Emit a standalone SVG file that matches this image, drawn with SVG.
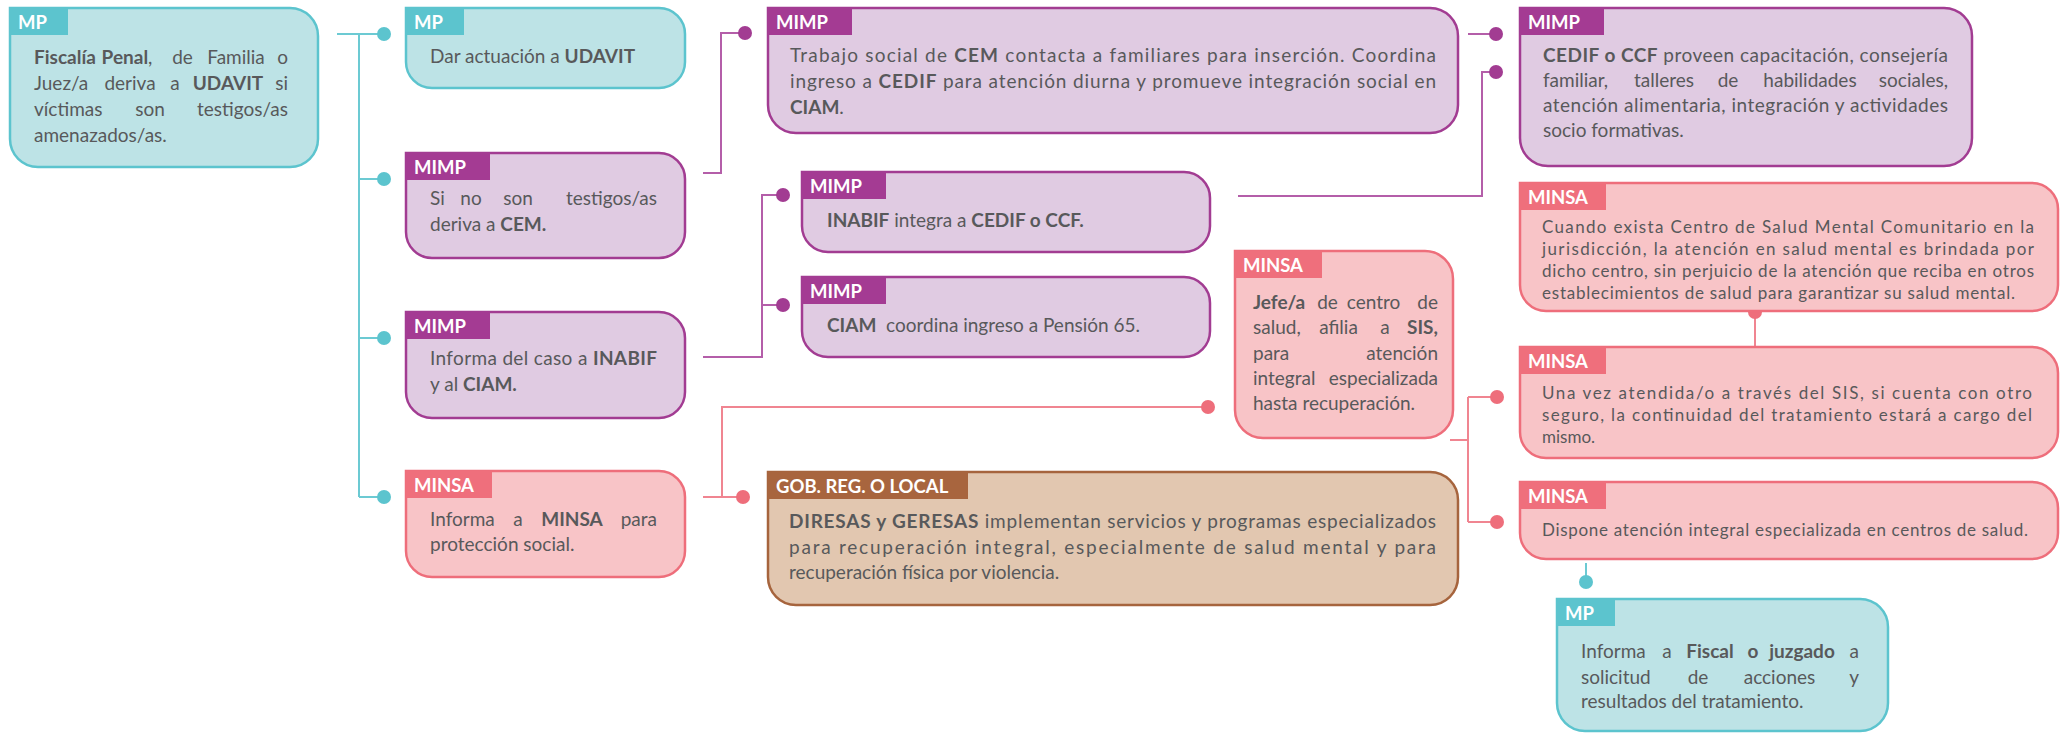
<svg xmlns="http://www.w3.org/2000/svg" width="2063" height="733" viewBox="0 0 2063 733">
<style>
text{font-family:Lato,"Open Sans","Liberation Sans",sans-serif;fill:#58595b;font-size:19px}
.s{font-size:17px}
.b{font-weight:700}
.m{text-anchor:middle}
.e{text-anchor:end}
.tab{font-weight:700;fill:#fff;font-size:18.5px}
.mp path{fill:#bde3e6;stroke:#5cc4ce;stroke-width:2.5}
.mp rect{fill:#5cc4ce}
.mimp path{fill:#e0cbe2;stroke:#a23c92;stroke-width:2.5}
.mimp rect{fill:#a43b93}
.minsa path{fill:#f8c4c7;stroke:#ee6e7b;stroke-width:2.5}
.minsa rect{fill:#ef6f7c}
.gob path{fill:#e2c7b0;stroke:#a6643d;stroke-width:2.5}
.gob rect{fill:#a8653e}
.ct{stroke:#6ccad3;stroke-width:2;fill:none}
.cp{stroke:#b45ea9;stroke-width:2;fill:none}
.cr{stroke:#f08591;stroke-width:2;fill:none}
.dt{fill:#5cc4ce}
.dp{fill:#a23c92}
.dr{fill:#ee6e7b}
</style>

<g id="connectors">
  <path class="ct" d="M337,34 H383 M359,34 V497 M359,179 H383 M359,338 H383 M359,497 H383"/>
  <circle class="dt" cx="384" cy="34" r="7"/>
  <circle class="dt" cx="384" cy="179" r="7"/>
  <circle class="dt" cx="384" cy="338" r="7"/>
  <circle class="dt" cx="384" cy="497" r="7"/>
  <path class="cp" d="M703,173 H721 V33 H745"/>
  <circle class="dp" cx="745" cy="33" r="7"/>
  <path class="cp" d="M703,357 H762 V195 H783 M762,305 H783"/>
  <circle class="dp" cx="783" cy="195" r="7"/>
  <circle class="dp" cx="783" cy="305" r="7"/>
  <path class="cp" d="M1468,34 H1496"/>
  <circle class="dp" cx="1496" cy="34" r="7"/>
  <path class="cp" d="M1238,196 H1482 V72 H1496"/>
  <circle class="dp" cx="1496" cy="72" r="7"/>
  <path class="cr" d="M703,497 H743 M722,497 V407 H1208"/>
  <circle class="dr" cx="743" cy="497" r="7"/>
  <circle class="dr" cx="1208" cy="407" r="7"/>
  <path class="cr" d="M1450,440 H1468 M1468,397 V522 M1468,397 H1497 M1468,522 H1497"/>
  <circle class="dr" cx="1497" cy="397" r="7"/>
  <circle class="dr" cx="1497" cy="522" r="7"/>
  <path class="cr" d="M1755,312 V348"/>
  <circle class="dr" cx="1755" cy="312" r="7"/>
  <path class="ct" d="M1586,563 V582"/>
  <circle class="dt" cx="1586" cy="582" r="7"/>
</g>

<g id="n1" class="mp">
  <path d="M10,8 H290 A28,28 0 0 1 318,36 V139 A28,28 0 0 1 290,167 H38 A28,28 0 0 1 10,139 Z"/>
  <rect x="10" y="8" width="58" height="27"/>
  <text class="tab" x="18" y="29">MP</text>
  <text y="64"><tspan x="34" class="b">Fiscalía</tspan><tspan x="127" class="m"><tspan class="b">Penal</tspan>,</tspan><tspan x="182.5" class="m">de</tspan><tspan x="236" class="m">Familia</tspan><tspan x="288" class="e">o</tspan></text>
  <text y="90"><tspan x="34">Juez/a</tspan><tspan x="130" class="m">deriva</tspan><tspan x="175" class="m">a</tspan><tspan x="228" class="m b">UDAVIT</tspan><tspan x="288" class="e">si</tspan></text>
  <text y="116"><tspan x="34">víctimas</tspan><tspan x="150" class="m">son</tspan><tspan x="288" class="e">testigos/as</tspan></text>
  <text x="34" y="142">amenazados/as.</text>
</g>

<g id="n2" class="mp">
  <path d="M406,8 H659 A26,26 0 0 1 685,34 V62 A26,26 0 0 1 659,88 H432 A26,26 0 0 1 406,62 Z"/>
  <rect x="406" y="8" width="58" height="27"/>
  <text class="tab" x="414" y="29">MP</text>
  <text x="430" y="63">Dar actuación a <tspan class="b">UDAVIT</tspan></text>
</g>

<g id="n3" class="mimp">
  <path d="M406,153 H659 A26,26 0 0 1 685,179 V232 A26,26 0 0 1 659,258 H432 A26,26 0 0 1 406,232 Z"/>
  <rect x="406" y="153" width="84" height="27"/>
  <text class="tab" x="414" y="174">MIMP</text>
  <text y="205"><tspan x="430">Si</tspan><tspan x="471" class="m">no</tspan><tspan x="518" class="m">son</tspan><tspan x="657" class="e">testigos/as</tspan></text>
  <text x="430" y="231">deriva a <tspan class="b">CEM.</tspan></text>
</g>

<g id="n4" class="mimp">
  <path d="M406,312 H659 A26,26 0 0 1 685,338 V392 A26,26 0 0 1 659,418 H432 A26,26 0 0 1 406,392 Z"/>
  <rect x="406" y="312" width="84" height="27"/>
  <text class="tab" x="414" y="333">MIMP</text>
  <text x="430" y="365" textLength="227" lengthAdjust="spacing">Informa del caso a <tspan class="b">INABIF</tspan></text>
  <text x="430" y="391">y al <tspan class="b">CIAM.</tspan></text>
</g>

<g id="n5" class="minsa">
  <path d="M406,471 H659 A26,26 0 0 1 685,497 V551 A26,26 0 0 1 659,577 H432 A26,26 0 0 1 406,551 Z"/>
  <rect x="406" y="471" width="86" height="27"/>
  <text class="tab" x="414" y="492">MINSA</text>
  <text y="526"><tspan x="430">Informa</tspan><tspan x="518" class="m">a</tspan><tspan x="572" class="m b">MINSA</tspan><tspan x="657" class="e">para</tspan></text>
  <text x="430" y="551">protección social.</text>
</g>

<g id="n6" class="mimp">
  <path d="M768,8 H1430 A28,28 0 0 1 1458,36 V105 A28,28 0 0 1 1430,133 H796 A28,28 0 0 1 768,105 Z"/>
  <rect x="768" y="8" width="84" height="27"/>
  <text class="tab" x="776" y="29">MIMP</text>
  <text x="790" y="62" textLength="646" lengthAdjust="spacing">Trabajo social de <tspan class="b">CEM</tspan> contacta a familiares para inserción. Coordina</text>
  <text x="790" y="88" textLength="646" lengthAdjust="spacing">ingreso a <tspan class="b">CEDIF</tspan> para atención diurna y promueve integración social en</text>
  <text x="790" y="114"><tspan class="b">CIAM</tspan>.</text>
</g>

<g id="n7" class="mimp">
  <path d="M802,172 H1184 A26,26 0 0 1 1210,198 V226 A26,26 0 0 1 1184,252 H828 A26,26 0 0 1 802,226 Z"/>
  <rect x="802" y="172" width="84" height="27"/>
  <text class="tab" x="810" y="193">MIMP</text>
  <text x="827" y="227"><tspan class="b">INABIF</tspan> integra a <tspan class="b">CEDIF o CCF.</tspan></text>
</g>

<g id="n8" class="mimp">
  <path d="M802,277 H1184 A26,26 0 0 1 1210,303 V331 A26,26 0 0 1 1184,357 H828 A26,26 0 0 1 802,331 Z"/>
  <rect x="802" y="277" width="84" height="27"/>
  <text class="tab" x="810" y="298">MIMP</text>
  <text x="827" y="332" xml:space="preserve"><tspan class="b">CIAM</tspan>  coordina ingreso a Pensión 65.</text>
</g>

<g id="n9" class="minsa">
  <path d="M1235,251 H1425 A28,28 0 0 1 1453,279 V410 A28,28 0 0 1 1425,438 H1263 A28,28 0 0 1 1235,410 Z"/>
  <rect x="1235" y="251" width="87" height="27"/>
  <text class="tab" x="1243" y="272">MINSA</text>
  <text y="309"><tspan x="1253" class="b">Jefe/a</tspan><tspan x="1327.5" class="m">de</tspan><tspan x="1373.5" class="m">centro</tspan><tspan x="1438" class="e">de</tspan></text>
  <text y="334"><tspan x="1253">salud,</tspan><tspan x="1338.5" class="m">afilia</tspan><tspan x="1385" class="m">a</tspan><tspan x="1438" class="e b">SIS,</tspan></text>
  <text y="360"><tspan x="1253">para</tspan><tspan x="1438" class="e">atención</tspan></text>
  <text y="385"><tspan x="1253">integral</tspan><tspan x="1438" class="e">especializada</tspan></text>
  <text x="1253" y="410">hasta recuperación.</text>
</g>

<g id="n10" class="gob">
  <path d="M768,472 H1430 A28,28 0 0 1 1458,500 V577 A28,28 0 0 1 1430,605 H796 A28,28 0 0 1 768,577 Z"/>
  <rect x="768" y="472" width="200" height="27"/>
  <text class="tab" x="776" y="493">GOB. REG. O LOCAL</text>
  <text x="789" y="528" textLength="647" lengthAdjust="spacing"><tspan class="b">DIRESAS y GERESAS</tspan> implementan servicios y programas especializados</text>
  <text x="789" y="554" textLength="647" lengthAdjust="spacing">para recuperación integral, especialmente de salud mental y para</text>
  <text x="789" y="579">recuperación física por violencia.</text>
</g>

<g id="n11" class="mimp">
  <path d="M1520,8 H1944 A28,28 0 0 1 1972,36 V138 A28,28 0 0 1 1944,166 H1548 A28,28 0 0 1 1520,138 Z"/>
  <rect x="1520" y="8" width="84" height="27"/>
  <text class="tab" x="1528" y="29">MIMP</text>
  <text x="1543" y="62" textLength="405" lengthAdjust="spacing"><tspan class="b">CEDIF o CCF</tspan> proveen capacitación, consejería</text>
  <text y="87"><tspan x="1543">familiar,</tspan><tspan x="1664" class="m">talleres</tspan><tspan x="1728" class="m">de</tspan><tspan x="1810" class="m">habilidades</tspan><tspan x="1948" class="e">sociales,</tspan></text>
  <text x="1543" y="112" textLength="405" lengthAdjust="spacing">atención alimentaria, integración y actividades</text>
  <text x="1543" y="137">socio formativas.</text>
</g>

<g id="n12" class="minsa">
  <path d="M1520,183 H2032 A26,26 0 0 1 2058,209 V285 A26,26 0 0 1 2032,311 H1546 A26,26 0 0 1 1520,285 Z"/>
  <rect x="1520" y="183" width="86" height="27"/>
  <text class="tab" x="1528" y="204">MINSA</text>
  <text class="s" x="1542" y="233" textLength="492" lengthAdjust="spacing">Cuando exista Centro de Salud Mental Comunitario en la</text>
  <text class="s" x="1542" y="255" textLength="492" lengthAdjust="spacing">jurisdicción, la atención en salud mental es brindada por</text>
  <text class="s" x="1542" y="277" textLength="492" lengthAdjust="spacing">dicho centro, sin perjuicio de la atención que reciba en otros</text>
  <text class="s" x="1542" y="299" textLength="473" lengthAdjust="spacing">establecimientos de salud para garantizar su salud mental.</text>
</g>

<g id="n13" class="minsa">
  <path d="M1520,347 H2032 A26,26 0 0 1 2058,373 V432 A26,26 0 0 1 2032,458 H1546 A26,26 0 0 1 1520,432 Z"/>
  <rect x="1520" y="347" width="86" height="27"/>
  <text class="tab" x="1528" y="368">MINSA</text>
  <text class="s" x="1542" y="399" textLength="490" lengthAdjust="spacing">Una vez atendida/o a través del SIS, si cuenta con otro</text>
  <text class="s" x="1542" y="421" textLength="490" lengthAdjust="spacing">seguro, la continuidad del tratamiento estará a cargo del</text>
  <text class="s" x="1542" y="443">mismo.</text>
</g>

<g id="n14" class="minsa">
  <path d="M1520,482 H2032 A26,26 0 0 1 2058,508 V533 A26,26 0 0 1 2032,559 H1546 A26,26 0 0 1 1520,533 Z"/>
  <rect x="1520" y="482" width="86" height="27"/>
  <text class="tab" x="1528" y="503">MINSA</text>
  <text class="s" x="1542" y="536" textLength="486" lengthAdjust="spacing">Dispone atención integral especializada en centros de salud.</text>
</g>

<g id="n15" class="mp">
  <path d="M1557,599 H1860 A28,28 0 0 1 1888,627 V703 A28,28 0 0 1 1860,731 H1585 A28,28 0 0 1 1557,703 Z"/>
  <rect x="1557" y="599" width="58" height="27"/>
  <text class="tab" x="1565" y="620">MP</text>
  <text y="658"><tspan x="1581">Informa</tspan><tspan x="1667" class="m">a</tspan><tspan x="1710" class="m b">Fiscal</tspan><tspan x="1753" class="m b">o</tspan><tspan x="1802" class="m b">juzgado</tspan><tspan x="1859" class="e">a</tspan></text>
  <text y="684"><tspan x="1581">solicitud</tspan><tspan x="1698" class="m">de</tspan><tspan x="1779.5" class="m">acciones</tspan><tspan x="1859" class="e">y</tspan></text>
  <text x="1581" y="708">resultados del tratamiento.</text>
</g>
</svg>
